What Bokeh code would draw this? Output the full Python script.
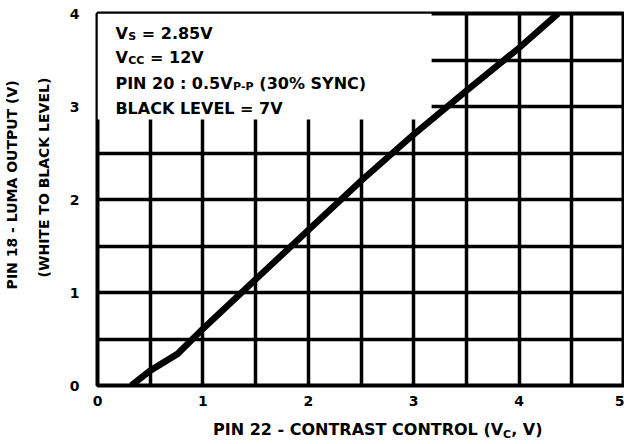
from bokeh.plotting import figure
from bokeh.models import (Range1d, FixedTicker, Label, BoxAnnotation, ColumnDataSource,
                          LinearAxis, Div)
from bokeh.layouts import column
from bokeh.embed import file_html
from bokeh.resources import INLINE

# ---- data ----
contrast_v = [0.32, 0.5, 0.76, 1.0, 1.5, 2.0, 2.5, 3.0, 3.5, 4.0, 4.37]
luma_v = [0.0, 0.16, 0.34, 0.61, 1.14, 1.67, 2.2, 2.7, 3.17, 3.63, 4.0]

x_ticks = [0, 1, 2, 3, 4, 5]
y_ticks = [0, 1, 2, 3, 4]
x_grid = [0.5, 1, 1.5, 2, 2.5, 3, 3.5, 4, 4.5]
y_grid = [0.5, 1, 1.5, 2, 2.5, 3, 3.5]

x_title = ["PIN 22 - CONTRAST CONTROL (V", "C", ", V)"]
y_title = ["PIN 18 - LUMA OUTPUT (V)", "(WHITE TO BLACK LEVEL)"]
notes = [
    ["V", "S", " = 2.85V"],
    ["V", "CC", " = 12V"],
    ["PIN 20 : 0.5V", "P-P", " (30% SYNC)"],
    ["BLACK LEVEL = 7V", "", ""],
]

FONT = "DejaVu Sans"
# approximate advance widths (em) of DejaVu Sans Bold, used to chain text pieces
W = {" ": .348, "(": .457, ")": .457, "%": 1.002, ",": .380, "-": .415, ".": .380,
     ":": .400, "=": .838, "A": .774, "B": .762, "C": .734, "E": .683, "I": .372,
     "K": .775, "L": .637, "N": .837, "O": .850, "P": .733, "R": .770, "S": .720,
     "T": .682, "V": .774, "Y": .724, "M": .995, "U": .812, "H": .837, "W": 1.103}
for d in "0123456789":
    W[d] = .696


def tw(s, size):
    return sum(W.get(c, .7) for c in s) * size


p = figure(width=624, height=412, output_backend="svg", toolbar_location=None,
           x_range=Range1d(0, 5), y_range=Range1d(0, 4),
           min_border_left=96, min_border_right=0, min_border_top=13, min_border_bottom=27)
p.background_fill_color = "white"
p.border_fill_color = "white"
p.outline_line_color = "black"
p.outline_line_width = 4

# y titles: inner line on the main axis, outer line on an extra label-only axis
nb = "\u00a0"
ax_out = LinearAxis(ticker=FixedTicker(ticks=[]), axis_label=nb * 6 + y_title[0])
p.add_layout(ax_out, "left")
ax_in = p.yaxis[0]
ax_in.axis_label = nb * 9 + y_title[1]

for ax in (p.xaxis[0], ax_in, ax_out):
    ax.axis_line_color = None
    ax.major_tick_line_color = None
    ax.minor_tick_line_color = None
    ax.major_tick_out = 0
    ax.major_tick_in = 0
    ax.minor_tick_out = 0
    ax.minor_tick_in = 0
    ax.major_label_text_font = FONT
    ax.major_label_text_font_style = "bold"
    ax.major_label_text_font_size = "14px"
    ax.major_label_text_color = "black"
    ax.axis_label_text_font = FONT
    ax.axis_label_text_font_style = "bold"
    ax.axis_label_text_font_size = "14px"
    ax.axis_label_text_color = "black"

p.xaxis.ticker = FixedTicker(ticks=x_ticks)
ax_in.ticker = FixedTicker(ticks=y_ticks)
p.xaxis.major_label_standoff = 10
ax_in.major_label_standoff = 18
ax_in.axis_label_standoff = 15
ax_out.major_label_standoff = 0
ax_out.axis_label_standoff = 13

p.xgrid.ticker = FixedTicker(ticks=x_grid)
p.ygrid.ticker = FixedTicker(ticks=y_grid)
for g in (p.xgrid[0], p.ygrid[0]):
    g.grid_line_color = "black"
    g.grid_line_width = 3.5
    g.grid_line_alpha = 1.0
    g.level = "image"

# white panel behind the condition notes
p.add_layout(BoxAnnotation(left=0, right=3.17, bottom=2.86, top=4,
                           fill_color="white", fill_alpha=1.0, line_color=None,
                           level="underlay"))

src = ColumnDataSource(dict(x=contrast_v, y=luma_v))
p.line("x", "y", source=src, line_color="black", line_width=6.5, line_cap="butt")

# condition notes
note_size = 16
sub_size = 11
note_x = 0.17
note_y = [3.785, 3.527, 3.247, 2.978]


def put(text, yy, off, size, dy=0):
    lead = len(text) - len(text.lstrip(" "))
    p.add_layout(Label(x=note_x, y=yy, x_offset=off + tw(" " * lead, size), y_offset=dy,
                       text=text.strip(" "), text_font=FONT, text_font_style="bold",
                       text_font_size=f"{size}px", text_baseline="alphabetic",
                       text_color="black"))


for (main, sub, rest), yy in zip(notes, note_y):
    off = 0
    put(main, yy, off, note_size)
    off += tw(main, note_size)
    if sub:
        put(sub, yy, off + 0.5, sub_size, dy=-3)
        off += tw(sub, sub_size) + 0.5
    if rest:
        put(rest, yy, off, note_size)

# x axis title with subscript (HTML so the subscript stays real text)
div = Div(text=(f'{x_title[0]}<span style="font-size:11px;position:relative;top:3px;">'
                f'{x_title[1]}</span>{x_title[2]}'),
          width=624, height=32, margin=(0, 0, 0, 0),
          styles={"font-family": FONT, "font-weight": "bold", "font-size": "16px",
                  "color": "black", "padding-left": "213px", "padding-top": "8px",
                  "line-height": "19px", "white-space": "nowrap"})

layout = column(p, div, spacing=0)
open("out.html", "w").write(file_html(layout, INLINE))
